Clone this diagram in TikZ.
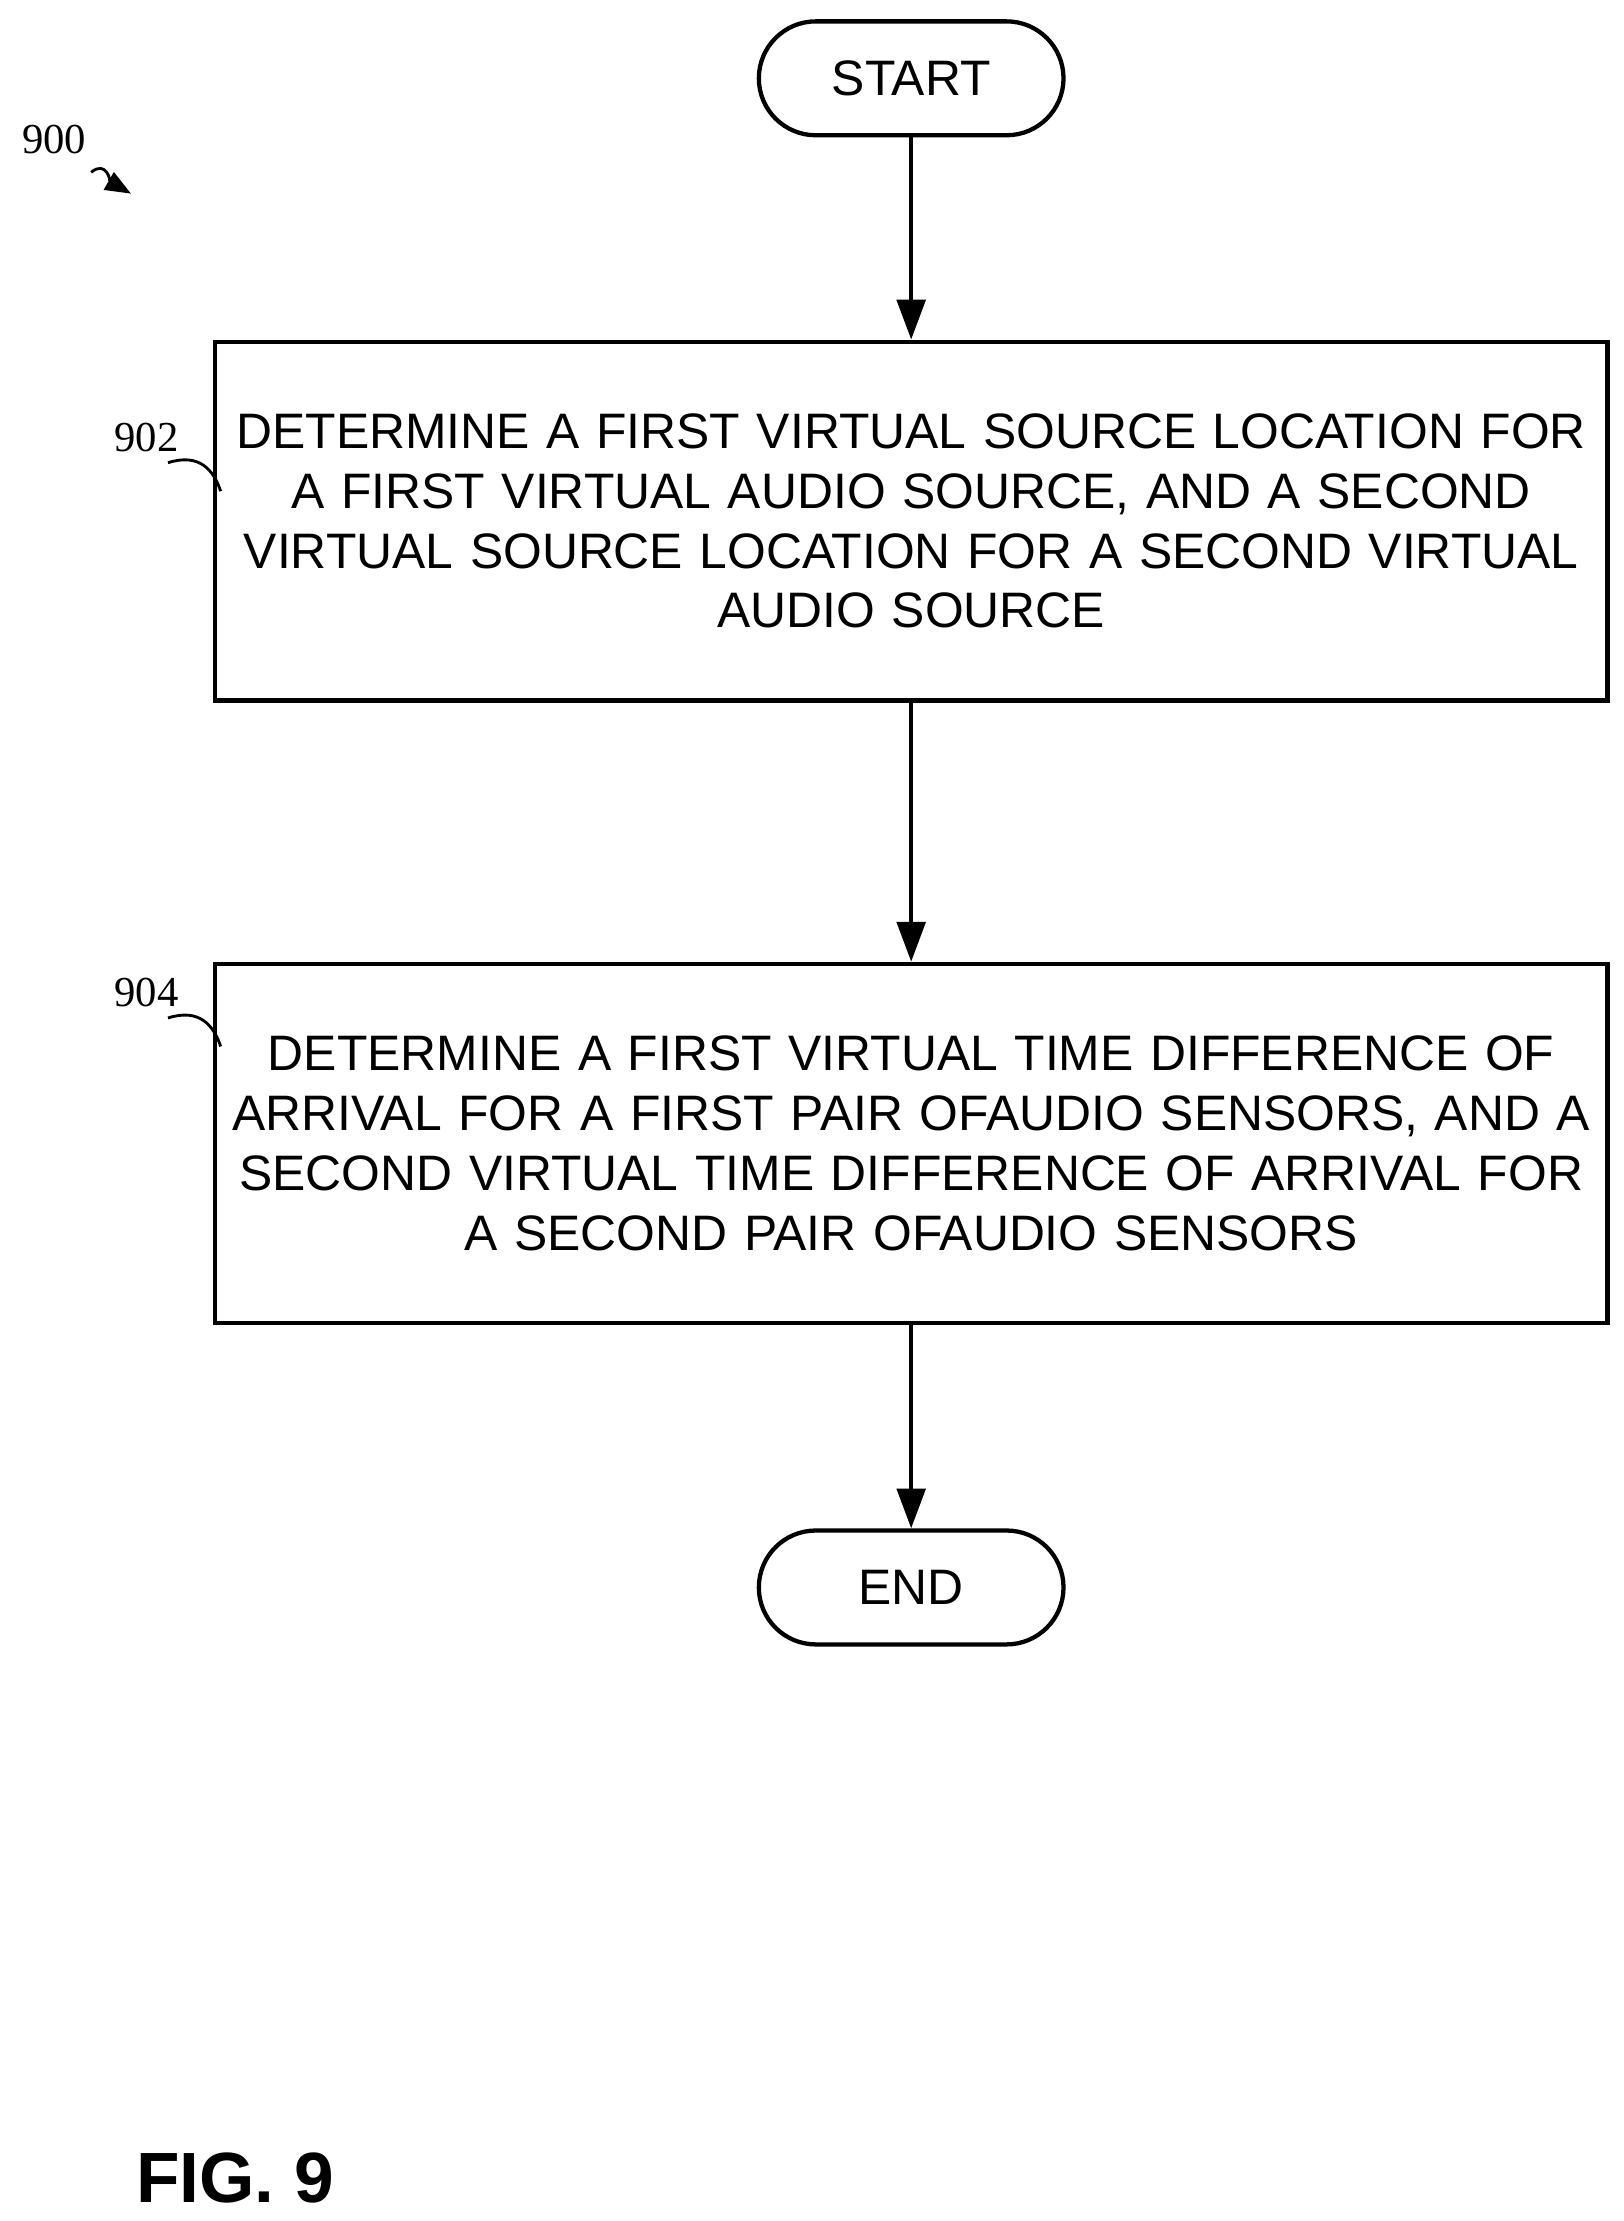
\documentclass[tikz,border=0pt]{standalone}
\usepackage{fontspec}
\setmainfont{Liberation Sans}
\newfontfamily\seriff{Liberation Serif}
\usetikzlibrary{arrows.meta}
\begin{document}
\begin{tikzpicture}[x=0.5pt,y=-0.5pt,
  box/.style={draw,line width=1.5pt,minimum width=489pt,text width=480pt,minimum height=126pt,align=center,font=\fontsize{17.5}{21}\selectfont,inner sep=0pt},
  term/.style={draw,line width=1.5pt,rounded corners=20pt,minimum width=107pt,minimum height=40pt,font=\fontsize{17.5}{21}\selectfont},
  arr/.style={line width=1.5pt,-{Triangle[length=14pt,width=10pt]}},
  lbl/.style={font=\seriff\fontsize{15}{15}\selectfont},
  sq/.style={line width=1pt}]
\useasboundingbox (0,0) rectangle (1140,1560);
\node[term] (start) at (640,55) {START};
\node[box] (b902) at (640,366) {DETERMINE A FIRST VIRTUAL SOURCE LOCATION FOR\\A FIRST VIRTUAL AUDIO SOURCE, AND A SECOND\\VIRTUAL SOURCE LOCATION FOR A SECOND VIRTUAL\\AUDIO SOURCE};
\node[box] (b904) at (640,803) {DETERMINE A FIRST VIRTUAL TIME DIFFERENCE OF\\ARRIVAL FOR A FIRST PAIR OFAUDIO SENSORS, AND A\\SECOND VIRTUAL TIME DIFFERENCE OF ARRIVAL FOR\\A SECOND PAIR OFAUDIO SENSORS};
\node[term] (end) at (640,1115) {END};
\draw[arr] (start) -- (b902);
\draw[arr] (b902) -- (b904);
\draw[arr] (b904) -- (end);
\node[lbl] (l900) at (38,98) {900};
\coordinate (t900) at (92,136);
\draw[sq,-{Triangle[length=9pt,width=7pt]}] (64,121) .. controls (75,112) and (78,128) .. (t900);
\node[lbl] (l902) at (103,307) {902};
\coordinate (t902) at (155,345);
\draw[sq] (118,325) .. controls (140,318) and (150,330) .. (t902);
\node[lbl] (l904) at (103,697) {904};
\coordinate (t904) at (155,735);
\draw[sq] (118,715) .. controls (140,708) and (150,720) .. (t904);
\node[font=\bfseries\fontsize{25}{25}\selectfont] (fig) at (165,1530) {FIG. 9};
\end{tikzpicture}
\end{document}
